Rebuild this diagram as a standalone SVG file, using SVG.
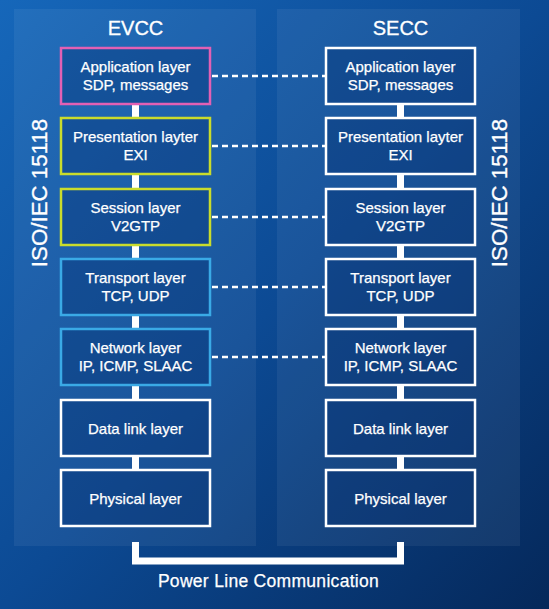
<svg xmlns="http://www.w3.org/2000/svg" width="549" height="609" viewBox="0 0 549 609">
<defs>
<linearGradient id="bg" x1="0" y1="0" x2="1" y2="1">
<stop offset="0" stop-color="#1667ba"/>
<stop offset="0.5" stop-color="#0c4a94"/>
<stop offset="1" stop-color="#05285a"/>
</linearGradient>
<style>
.panel{fill:#ffffff;fill-opacity:0.06}
.box{fill:#002a6e;fill-opacity:0.35;stroke-width:2.5}
.pink{stroke:#e260b4}
.yel{stroke:#c9dc2c}
.blu{stroke:#3aaae6}
.wht{stroke:#ffffff}
.t{font-family:"Liberation Sans",Arial,sans-serif;font-size:15px;fill:#ffffff;stroke:#ffffff;stroke-width:0.25;text-anchor:middle}
.h{font-family:"Liberation Sans",Arial,sans-serif;font-size:20px;fill:#ffffff;stroke:#ffffff;stroke-width:0.3;text-anchor:middle}
.v{font-family:"Liberation Sans",Arial,sans-serif;font-size:22.3px;fill:#ffffff;stroke:#ffffff;stroke-width:0.3;text-anchor:middle}
.bar{stroke:#ffffff;stroke-width:7;fill:none}
.dash{stroke:#ffffff;stroke-width:2.6;stroke-dasharray:6 4;fill:none}
</style>
</defs>
<rect width="549" height="609" fill="url(#bg)"/>
<rect class="panel" x="14" y="9" width="242" height="537"/>
<rect class="panel" x="277" y="9" width="243" height="537"/>
<text class="h" x="135.5" y="35">EVCC</text>
<text class="h" x="400.5" y="35">SECC</text>
<text class="v" transform="translate(47,193) rotate(-90)">ISO/IEC 15118</text>
<text class="v" transform="translate(507,193) rotate(-90)">ISO/IEC 15118</text>
<g id="connectors">
<path class="bar" d="M135.5 104V118M135.5 174V189M135.5 245V259M135.5 315V329M135.5 385V400M135.5 456V470"/>
<path class="bar" d="M400.5 104V118M400.5 174V189M400.5 245V259M400.5 315V329M400.5 385V400M400.5 456V470"/>
<path class="dash" d="M212 76H325M212 146H325M212 217H325M212 287H325M212 357H325"/>
<path class="bar" d="M135.5 542V561H400.5V542"/>
</g>
<g id="evcc-app"><rect class="box pink" x="61" y="48" width="149" height="56"/><text class="t" x="135.5" y="72">Application layer</text><text class="t" x="135.5" y="90">SDP, messages</text></g>
<g id="evcc-pres"><rect class="box yel" x="61" y="118" width="149" height="56"/><text class="t" x="135.5" y="141.5">Presentation layter</text><text class="t" x="135.5" y="159.5">EXI</text></g>
<g id="evcc-sess"><rect class="box yel" x="61" y="189" width="149" height="56"/><text class="t" x="135.5" y="212.5">Session layer</text><text class="t" x="135.5" y="230.5">V2GTP</text></g>
<g id="evcc-trans"><rect class="box blu" x="61" y="259" width="149" height="56"/><text class="t" x="135.5" y="282.5">Transport layer</text><text class="t" x="135.5" y="300.5">TCP, UDP</text></g>
<g id="evcc-net"><rect class="box blu" x="61" y="329" width="149" height="56"/><text class="t" x="135.5" y="352.5">Network layer</text><text class="t" x="135.5" y="370.5">IP, ICMP, SLAAC</text></g>
<g id="evcc-dl"><rect class="box wht" x="61" y="400" width="149" height="56"/><text class="t" x="135.5" y="433.5">Data link layer</text></g>
<g id="evcc-phy"><rect class="box wht" x="61" y="470" width="149" height="56"/><text class="t" x="135.5" y="503.5">Physical layer</text></g>
<g id="secc-app"><rect class="box wht" x="326" y="48" width="149" height="56"/><text class="t" x="400.5" y="72">Application layer</text><text class="t" x="400.5" y="90">SDP, messages</text></g>
<g id="secc-pres"><rect class="box wht" x="326" y="118" width="149" height="56"/><text class="t" x="400.5" y="141.5">Presentation layter</text><text class="t" x="400.5" y="159.5">EXI</text></g>
<g id="secc-sess"><rect class="box wht" x="326" y="189" width="149" height="56"/><text class="t" x="400.5" y="212.5">Session layer</text><text class="t" x="400.5" y="230.5">V2GTP</text></g>
<g id="secc-trans"><rect class="box wht" x="326" y="259" width="149" height="56"/><text class="t" x="400.5" y="282.5">Transport layer</text><text class="t" x="400.5" y="300.5">TCP, UDP</text></g>
<g id="secc-net"><rect class="box wht" x="326" y="329" width="149" height="56"/><text class="t" x="400.5" y="352.5">Network layer</text><text class="t" x="400.5" y="370.5">IP, ICMP, SLAAC</text></g>
<g id="secc-dl"><rect class="box wht" x="326" y="400" width="149" height="56"/><text class="t" x="400.5" y="433.5">Data link layer</text></g>
<g id="secc-phy"><rect class="box wht" x="326" y="470" width="149" height="56"/><text class="t" x="400.5" y="503.5">Physical layer</text></g>
<text x="268.5" y="587" style="font-family:'Liberation Sans',Arial,sans-serif;font-size:17.5px;fill:#ffffff;stroke:#ffffff;stroke-width:0.25;text-anchor:middle;letter-spacing:0.3px">Power Line Communication</text>
</svg>
